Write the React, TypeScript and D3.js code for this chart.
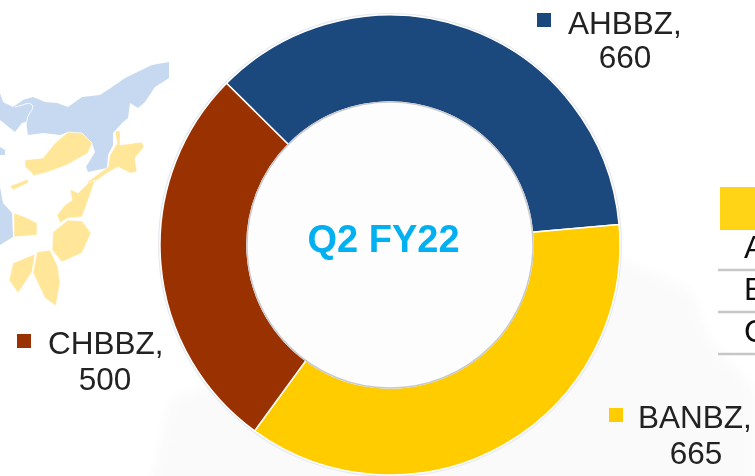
import * as d3 from "d3";

const categories = ["AHBBZ", "BANBZ", "CHBBZ"];
const values = [660, 665, 500];
const centerTitle = "Q2 FY22";
const tableRows = ["AHBBZ", "BANBZ", "CHBBZ"];

const WIDTH = 755;
const HEIGHT = 476;
const colors = ["#1F497D", "#FFCC00", "#993300"];

// label anchors, same order as categories
const labelPos = [
    { mx: 537, my: 13, nameX: 568, nameY: 34, valueX: 625, valueY: 68 },
    { mx: 609, my: 408, nameX: 638, nameY: 428, valueX: 696, valueY: 464 },
    { mx: 17, my: 334, nameX: 48, nameY: 354, valueX: 105, valueY: 390 },
];

// faded map behind the chart, decoration only
const mapBlue: [number, number][][] = [
    [[0, 93], [3, 102], [13, 107], [23, 100], [33, 97], [45, 102], [57, 103], [68, 107], [82, 97], [100, 95], [118, 83], [125, 78], [152, 65], [169, 62], [169, 78], [155, 87], [145, 102], [138, 108], [130, 103], [128, 118], [122, 123], [113, 133], [113, 145], [108, 155], [107, 168], [88, 172], [86, 167], [95, 152], [92, 143], [82, 133], [68, 132], [60, 135], [43, 133], [28, 135], [26, 122], [22, 123], [15, 132], [0, 120]],
    [[0, 147], [5, 150], [5, 155], [0, 155]],
    [[0, 187], [3, 203], [12, 213], [13, 237], [0, 245]],
];
const mapYellow: [number, number][][] = [
    [[25, 160], [43, 158], [55, 143], [68, 132], [82, 133], [92, 143], [88, 153], [67, 165], [48, 172], [33, 176], [32, 173], [25, 167]],
    [[10, 186], [28, 179], [28, 183], [13, 190]],
    [[115, 131], [120, 131], [120, 145], [142, 142], [144, 147], [135, 158], [137, 172], [130, 173], [118, 167], [107, 173], [90, 185], [87, 182], [108, 167], [110, 155], [117, 143]],
    [[95, 180], [90, 195], [82, 217], [68, 218], [60, 223], [57, 215], [65, 205], [72, 200], [70, 189], [78, 193], [88, 183]],
    [[14, 213], [25, 217], [37, 223], [37, 235], [14, 237]],
    [[68, 220], [82, 221], [91, 233], [82, 253], [62, 262], [52, 250], [53, 232]],
    [[37, 252], [50, 250], [58, 267], [60, 283], [56, 306], [45, 298], [33, 273]],
    [[35, 254], [32, 272], [18, 293], [9, 280], [13, 263]],
];
const riverLine: [number, number][] = [[25, 134], [27, 115], [33, 110], [33, 104], [27, 103], [23, 105], [15, 107]];

export default function App() {
    const cx = 390;
    const cy = 245;
    const outerR = 230;
    const innerR = 143;

    const pie = d3.pie<number>()
        .sort(null)
        .startAngle((-45.3 * Math.PI) / 180)
        .endAngle((314.7 * Math.PI) / 180);
    const arc = d3.arc<d3.PieArcDatum<number>>()
        .innerRadius(innerR)
        .outerRadius(outerR);
    const slices = pie(values);

    const closed = d3.line().curve(d3.curveLinearClosed);
    const open = d3.line().curve(d3.curveBasis);

    return (
        <svg
            width={WIDTH}
            height={HEIGHT}
            style={{ position: "fixed", left: 0, top: 0, display: "block", background: "#fff" }}
        >
            <defs>
                <filter id="soft" x="-5%" y="-5%" width="110%" height="110%">
                    <feGaussianBlur stdDeviation="0.5" />
                </filter>
                <filter id="mapBlur" x="-5%" y="-5%" width="110%" height="110%">
                    <feGaussianBlur stdDeviation="0.7" />
                </filter>
                <filter id="bgBlur" x="-10%" y="-10%" width="120%" height="120%">
                    <feGaussianBlur stdDeviation="6" />
                </filter>
            </defs>

            {/* background */}
            <path d="M600,250 L690,290 L710,340 L755,390 L755,490 L150,490 L170,400 Z" fill="#fafafb" filter="url(#bgBlur)" />
            <g filter="url(#mapBlur)">
                {mapBlue.map((pts, i) => <path key={i} d={closed(pts) || ""} fill="#C6D9F1" />)}
                {mapYellow.map((pts, i) => (
                    <path key={i} d={closed(pts) || ""} fill="#FFE699" stroke="#fff" strokeWidth={0.6} strokeLinejoin="round" />
                ))}
                <path d={open(riverLine) || ""} fill="none" stroke="#fff" strokeWidth={0.9} />
            </g>

            {/* donut */}
            <g transform={`translate(${cx},${cy})`} filter="url(#soft)">
                <circle r={outerR + 2} fill="#e6e8ef" />
                {slices.map((s, i) => (
                    <path key={categories[i]} d={arc(s) || ""} fill={colors[i]} stroke="#fff" strokeWidth={1.5} />
                ))}
                <circle r={innerR} fill="#fdfdfd" stroke="#c9cacd" strokeWidth={1.5} />
            </g>
            <text
                x={383.5}
                y={252}
                textAnchor="middle"
                fontFamily="Liberation Sans"
                fontWeight="bold"
                fontSize={38}
                fill="#00B0F0"
                filter="url(#soft)"
            >
                {centerTitle}
            </text>

            {/* data labels */}
            <g fontFamily="Liberation Sans" fontSize={31.5} fill="#222" filter="url(#soft)">
                {categories.map((name, i) => {
                    const p = labelPos[i];
                    return (
                        <g key={name}>
                            <rect x={p.mx} y={p.my} width={14} height={14} fill={colors[i]} />
                            <text x={p.nameX} y={p.nameY}>{name},</text>
                            <text x={p.valueX} y={p.valueY} textAnchor="middle">{values[i]}</text>
                        </g>
                    );
                })}
            </g>

            {/* table cut off by the right edge, as in the reference */}
            <g filter="url(#soft)">
                <rect x={720} y={187} width={40} height={43} fill="#FFD314" />
                {tableRows.map((row, i) => (
                    <g key={row}>
                        <text x={744} y={258 + i * 42} fontFamily="Liberation Sans" fontSize={31.5} fill="#111">{row}</text>
                        <line x1={718} x2={760} y1={270 + i * 42} y2={270 + i * 42} stroke="#c6c6c6" strokeWidth={2.5} />
                    </g>
                ))}
            </g>
        </svg>
    );
}
